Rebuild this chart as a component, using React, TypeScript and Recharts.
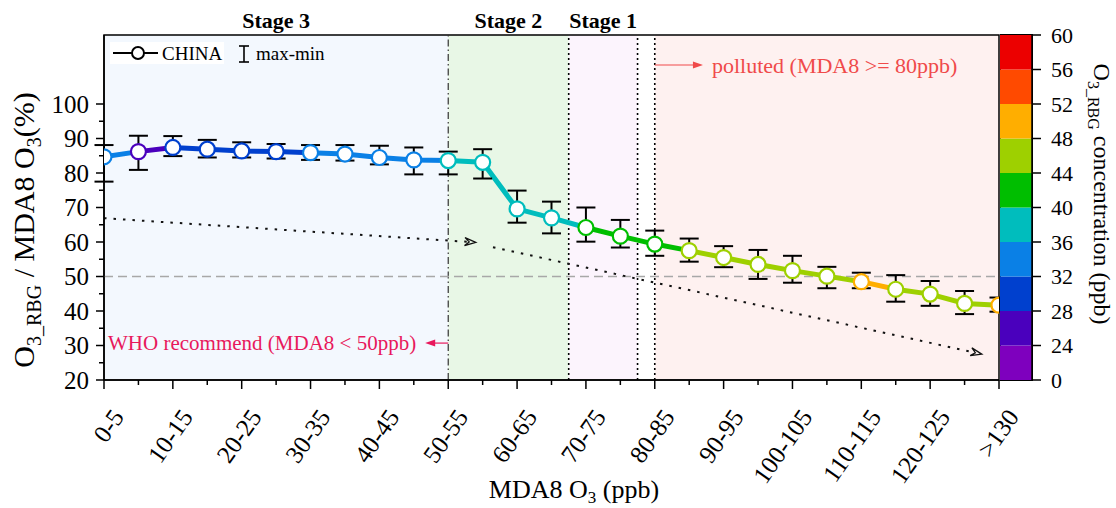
import React from "react";
import {
  LineChart,
  Line,
  XAxis,
  YAxis,
  ReferenceArea,
  ReferenceLine,
  ErrorBar,
  BarChart,
  Bar,
} from "recharts";

const FONT = "'Liberation Serif', 'Times New Roman', serif";

// x categories: MDA8 O3 bins (ppb)
const categories = [
  "0-5", "5-10", "10-15", "15-20", "20-25", "25-30", "30-35", "35-40", "40-45",
  "45-50", "50-55", "55-60", "60-65", "65-70", "70-75", "75-80", "80-85", "85-90",
  "90-95", "95-100", "100-105", "105-110", "110-115", "115-120", "120-125", "125-130", ">130",
];

// O3_RBG / MDA8 O3 (%) for CHINA
const ratio = [
  84.7, 86.2, 87.4, 86.9, 86.4, 86.2, 85.9, 85.5, 84.5, 83.8, 83.6, 83.1, 69.6, 67.0,
  64.2, 61.7, 59.4, 57.5, 55.5, 53.5, 51.7, 50.1, 48.5, 46.3, 44.9, 42.2, 41.7,
];
const maxV = [
  88.1, 90.8, 90.7, 89.6, 88.9, 88.4, 88.1, 88.1, 87.9, 87.4, 86.2, 86.9, 74.9, 71.7,
  70.0, 66.4, 63.3, 61.0, 58.8, 57.7, 56.0, 52.8, 51.1, 50.4, 48.7, 45.8, 43.9,
];
const minV = [
  77.5, 80.9, 84.9, 84.5, 84.5, 84.2, 83.8, 83.6, 82.5, 79.6, 79.6, 78.4, 65.6, 62.5,
  60.1, 58.4, 56.0, 54.3, 52.7, 49.3, 48.2, 46.6, 46.6, 42.7, 41.5, 39.1, 39.8,
];
// O3_RBG concentration (ppb), drives the colour of each point
const conc = [
  34, 26, 30, 30, 30, 30, 34, 34, 34, 34, 38, 38, 38, 38, 42, 42, 42, 46, 46, 46, 46, 46,
  50, 46, 46, 46, 50,
];

// colour bar
const binEdges = [0, 24, 28, 32, 36, 40, 44, 48, 52, 56, 60];
const binColors = [
  "#7E00BE", "#4A00BD", "#0040CE", "#0A80E6", "#00BDBD",
  "#00BE00", "#9ED000", "#FFAE00", "#FF4A00", "#EC0000",
];

// stages (x in category index units)
const stageNames = ["Stage 3", "Stage 2", "Stage 1"];
const stageFrom = [0, 10, 13.5];
const stageTo = [10, 13.5, 15.5];
const stageFills = ["#F3F8FE", "#E8F7E6", "#FCF4FD"];
const pollutedFrom = 16;
const dottedX = [13.5, 15.5, 16];

// dotted trend arrows
const trendA = [[0, 66.9], [10.8, 59.9]];
const trendB = [[11.3, 58.5], [25.5, 27.5]];

const colorFor = (c: number) => {
  for (let i = 0; i < binColors.length; i++) {
    if (c < binEdges[i + 1]) return binColors[i];
  }
  return binColors[binColors.length - 1];
};

const rows = categories.map((label, i) => ({
  idx: i,
  label,
  ratio: ratio[i],
  err: [ratio[i] - minV[i], maxV[i] - ratio[i]],
  color: colorFor(conc[i]),
}));

const barRow = binColors.reduce(
  (acc: any, _c, i) => {
    acc[`b${i}`] = 1;
    return acc;
  },
  { name: "cb" }
);

const xTicks = categories.map((_, i) => i);
const yTicks = [20, 25, 30, 35, 40, 45, 50, 55, 60, 65, 70, 75, 80, 85, 90, 95, 100];
const last = categories.length - 1;

const XTick = (props: any) => {
  const { x, y, payload } = props;
  const i = payload.value;
  const major = i % 2 === 0;
  const lx = x + 21;
  const ly = y + 37;
  return (
    <g>
      <line x1={x} y1={y} x2={x} y2={y + (major ? 9 : 5)} stroke="#000" strokeWidth={1.5} />
      {major && (
        <text
          x={lx}
          y={ly}
          transform={`rotate(-55 ${lx} ${ly})`}
          textAnchor="end"
          fontSize={25}
          fontFamily={FONT}
          fill="#000"
        >
          {categories[i]}
        </text>
      )}
    </g>
  );
};

const YTick = (props: any) => {
  const { x, y, payload } = props;
  const v = payload.value;
  const major = v % 10 === 0;
  return (
    <g>
      <line x1={x} y1={y} x2={x - (major ? 8 : 5)} y2={y} stroke="#000" strokeWidth={1.5} />
      {major && (
        <text x={x - 15} y={y} dy="0.35em" textAnchor="end" fontSize={25} fontFamily={FONT} fill="#000">
          {v}
        </text>
      )}
    </g>
  );
};

// dotted line with an open arrow head
const TrendArrow = (props: any) => {
  const { x1, y1, x2, y2 } = props;
  const dx = x2 - x1;
  const dy = y2 - y1;
  const len = Math.sqrt(dx * dx + dy * dy);
  const ux = dx / len;
  const uy = dy / len;
  const px = -uy;
  const py = ux;
  const L = 11;
  const W = 4;
  const bx = x2 - ux * L;
  const by = y2 - uy * L;
  const nx = x2 - ux * L * 0.6;
  const ny = y2 - uy * L * 0.6;
  return (
    <g>
      <line x1={x1} y1={y1} x2={nx} y2={ny} stroke="#111" strokeWidth={2} strokeDasharray="2.5 7" />
      <path
        d={`M${x2},${y2} L${bx + px * W},${by + py * W} L${nx},${ny} L${bx - px * W},${by - py * W} Z`}
        fill="none"
        stroke="#111"
        strokeWidth={1.3}
      />
    </g>
  );
};

// solid arrow with a text note next to its head
const NoteArrow = (props: any) => {
  const { x1, y1, x2, y2, color, text, side, size } = props;
  const dir = x2 > x1 ? 1 : -1;
  const L = 10;
  const W = 3.5;
  return (
    <g>
      <line x1={x1} y1={y1} x2={x2 - dir * 4} y2={y2} stroke={color} strokeWidth={1.2} />
      <path d={`M${x2},${y2} L${x2 - dir * L},${y2 - W} L${x2 - dir * L},${y2 + W} Z`} fill={color} />
      <text
        x={x2 + dir * 9}
        y={y2}
        dy="0.35em"
        textAnchor={side}
        fontSize={size}
        fontFamily={FONT}
        fill={color}
      >
        {text}
      </text>
    </g>
  );
};

const renderDot = (p: any) => (
  <circle
    key={`dot-${p.index}`}
    cx={p.cx}
    cy={p.cy}
    r={7.5}
    fill="#fff"
    stroke={p.payload.color}
    strokeWidth={2.2}
  />
);

export default function App() {
  return (
    <div
      style={{
        position: "absolute",
        left: 0,
        top: 0,
        width: 1116,
        height: 508,
        background: "#fff",
        fontFamily: FONT,
      }}
    >
      <div style={{ position: "absolute", left: 0, top: 0 }}>
        <LineChart
          width={1116}
          height={508}
          data={rows}
          margin={{ top: 35, right: 117, bottom: 0, left: 0 }}
        >
          <defs>
            <linearGradient id="segGrad" x1="0" y1="0" x2="1" y2="0">
              {rows.slice(0, -1).flatMap((r, i) => [
                <stop key={`a${i}`} offset={i / last} stopColor={r.color} />,
                <stop key={`b${i}`} offset={(i + 1) / last} stopColor={r.color} />,
              ])}
            </linearGradient>
          </defs>

          <XAxis
            type="number"
            dataKey="idx"
            domain={[0, last]}
            ticks={xTicks}
            interval={0}
            allowDataOverflow
            height={128}
            tickSize={0}
            tickMargin={0}
            tickLine={false}
            tick={(p: any) => <XTick {...p} />}
            axisLine={{ stroke: "#000", strokeWidth: 1.5 }}
          />
          <XAxis xAxisId="eb" type="number" dataKey="idx" domain={[0, last]} hide />
          <YAxis
            type="number"
            domain={[20, 120]}
            ticks={yTicks}
            interval={0}
            width={104}
            tickSize={0}
            tickMargin={0}
            tickLine={false}
            tick={(p: any) => <YTick {...p} />}
            axisLine={{ stroke: "#000", strokeWidth: 1.5 }}
          />

          {stageNames.map((name, i) => (
            <ReferenceArea
              key={name}
              x1={stageFrom[i]}
              x2={stageTo[i]}
              y1={20}
              y2={120}
              fill={stageFills[i]}
              fillOpacity={1}
              stroke="none"
              label={{
                value: name,
                position: "top",
                offset: 7,
                fill: "#000",
                fontSize: 22,
                fontWeight: "bold",
                fontFamily: FONT,
              }}
            />
          ))}
          <ReferenceArea x1={pollutedFrom} x2={last} y1={20} y2={120} fill="#FEF1F0" fillOpacity={1} stroke="none" />

          <ReferenceLine x={10} stroke="#333" strokeWidth={1.2} strokeDasharray="7 3 1.5 3" />
          {dottedX.map((x) => (
            <ReferenceLine key={x} x={x} stroke="#000" strokeWidth={1.6} strokeDasharray="2 3" />
          ))}
          <ReferenceLine y={50} stroke="#A8A8A8" strokeWidth={1.5} strokeDasharray="9 5" />

          <ReferenceLine
            segment={[{ x: trendA[0][0], y: trendA[0][1] }, { x: trendA[1][0], y: trendA[1][1] }]}
            shape={(p: any) => <TrendArrow {...p} />}
          />
          <ReferenceLine
            segment={[{ x: trendB[0][0], y: trendB[0][1] }, { x: trendB[1][0], y: trendB[1][1] }]}
            shape={(p: any) => <TrendArrow {...p} />}
          />
          <ReferenceLine
            segment={[{ x: 16, y: 111.3 }, { x: 17.4, y: 111.3 }]}
            shape={(p: any) => (
              <NoteArrow {...p} color="#F04A4A" side="start" size={22} text="polluted (MDA8 >= 80ppb)" />
            )}
          />
          <ReferenceLine
            segment={[{ x: 10, y: 30.7 }, { x: 9.33, y: 30.7 }]}
            shape={(p: any) => (
              <NoteArrow {...p} color="#E8185C" side="end" size={21} text="WHO recommend (MDA8 < 50ppb)" />
            )}
          />

          <ReferenceArea x1={0} x2={last} y1={20} y2={120} fill="none" stroke="#000" strokeWidth={1.5} />

          <Line
            dataKey="ratio"
            stroke="url(#segGrad)"
            strokeWidth={5}
            dot={renderDot}
            activeDot={false}
            isAnimationActive={false}
          />
          <Line
            xAxisId="eb"
            dataKey="ratio"
            stroke="none"
            dot={false}
            activeDot={false}
            isAnimationActive={false}
          >
            <ErrorBar dataKey="err" direction="y" width={9.5} stroke="#000" strokeWidth={2} />
          </Line>
        </LineChart>
      </div>

      <div style={{ position: "absolute", left: 1000, top: 0 }}>
        <BarChart
          width={116}
          height={508}
          data={[barRow]}
          margin={{ top: 35, right: 0, bottom: 128, left: 0 }}
          barCategoryGap={0}
          barGap={0}
        >
          <XAxis dataKey="name" hide />
          <YAxis
            orientation="right"
            type="number"
            width={84}
            domain={[0, binColors.length]}
            ticks={binEdges.map((_, i) => i)}
            interval={0}
            tickFormatter={(v: number) => String(binEdges[v])}
            tick={{ fill: "#000", fontSize: 22, fontFamily: FONT }}
            tickSize={9}
            tickMargin={10}
            tickLine={{ stroke: "#000", strokeWidth: 1.5 }}
            axisLine={{ stroke: "#000", strokeWidth: 1.5 }}
          />
          {binColors.map((c, i) => (
            <Bar key={c} dataKey={`b${i}`} stackId="cb" fill={c} isAnimationActive={false} />
          ))}
          <ReferenceArea y1={0} y2={binColors.length} fill="none" stroke="#000" strokeWidth={2} />
        </BarChart>
      </div>

      <svg
        width={1116}
        height={508}
        style={{ position: "absolute", left: 0, top: 0, pointerEvents: "none" }}
        fontFamily={FONT}
      >
        {/* legend */}
        <rect x={110} y={42} width={114} height={22} fill="#fff" />
        <line x1={113} y1={53} x2={158} y2={53} stroke="#000" strokeWidth={2} />
        <circle cx={138} cy={53} r={6} fill="#fff" stroke="#000" strokeWidth={2} />
        <text x={162} y={60} fontSize={19} fill="#000">CHINA</text>
        <line x1={244} y1={46} x2={244} y2={62} stroke="#000" strokeWidth={1.6} />
        <line x1={239} y1={46} x2={249} y2={46} stroke="#000" strokeWidth={1.6} />
        <line x1={239} y1={62} x2={249} y2={62} stroke="#000" strokeWidth={1.6} />
        <text x={256} y={60} fontSize={19} fill="#000">max-min</text>

        {/* axis titles */}
        <text x={574} y={498} textAnchor="middle" fontSize={26} fill="#000">
          MDA8 O<tspan fontSize={17} dy={5}>3</tspan>
          <tspan dy={-5}> (ppb)</tspan>
        </text>
        <text transform="translate(34,230) rotate(-90)" textAnchor="middle" fontSize={30} fill="#000">
          O<tspan fontSize={20} dy={7}>3_RBG</tspan>
          <tspan dy={-7}> / MDA8 O</tspan>
          <tspan fontSize={20} dy={7}>3</tspan>
          <tspan dy={-7}>(%)</tspan>
        </text>
        <text transform="translate(1094,194) rotate(90)" textAnchor="middle" fontSize={24} fill="#000">
          O<tspan fontSize={16} dy={6}>3_RBG</tspan>
          <tspan dy={-6}> concentration (ppb)</tspan>
        </text>
      </svg>
    </div>
  );
}
